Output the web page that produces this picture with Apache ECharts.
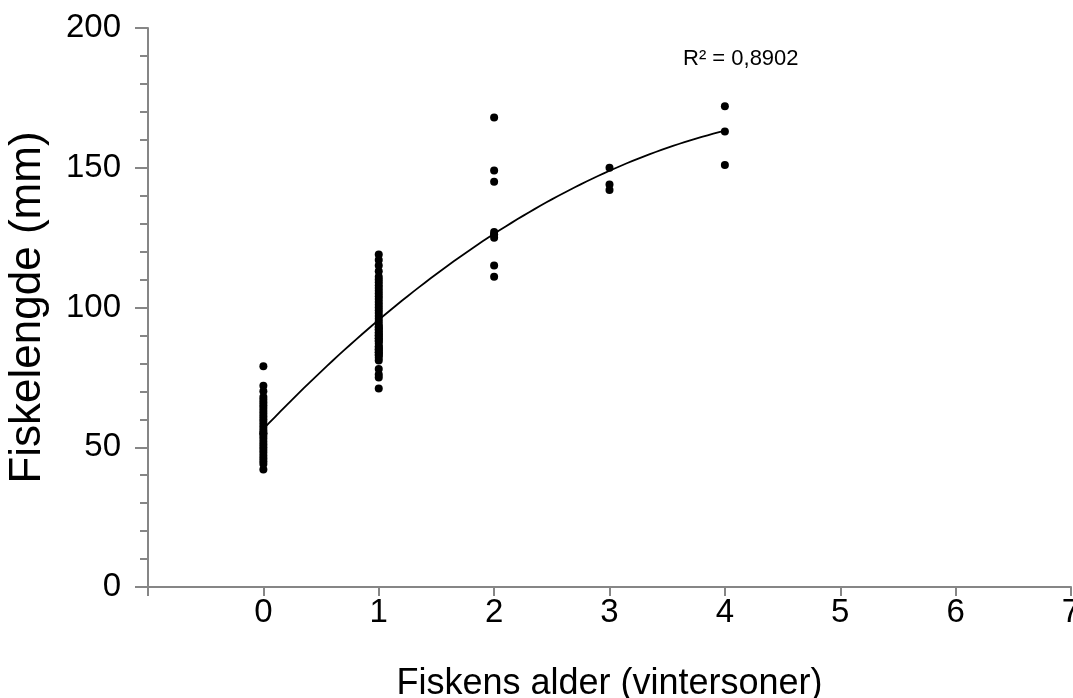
<!DOCTYPE html>
<html>
<head>
<meta charset="utf-8">
<script src="https://cdn.jsdelivr.net/npm/echarts@6/dist/echarts.min.js"></script>
<style>
html,body{margin:0;padding:0;background:#fff;overflow:hidden;}
#chart{width:1073px;height:698px;}
</style>
</head>
<body>
<div id="chart"></div>
<script>
// Fish age (winter zones) groups and measured lengths (mm)
const age0 = [79,72,70,68,67,66,65,64,63,62,61,60,59,58,57,56,55,55,54,53,52,51,50,49,48,47,46,45,44,42];
const age1 = [119,117,115,113,111,110,109,108,107,106,105,104,103,102,101,100,99,98,97,96,95,94,93,93,92,92,91,91,90,90,89,89,88,88,87,86,86,85,85,84,84,83,83,82,81,78,76,75,71];
const age2 = [168,149,145,127,126,126,125,115,111];
const age3 = [150,144,142];
const age4 = [172,163,151];
const xTicks = [-1,0,1,2,3,4,5,6,7];
const yTicks = [0,50,100,150,200];
const rSquaredLabel = 'R² = 0,8902';

const groups = [[0,age0],[1,age1],[2,age2],[3,age3],[4,age4]];
const points = [];
groups.forEach(([a, arr]) => arr.forEach(v => points.push([a, v])));

// Least-squares quadratic trendline (order 2) computed from the data
function polyfit2(pts){
  let S=[0,0,0,0,0], T=[0,0,0];
  pts.forEach(([x,y])=>{
    let p=1;
    for(let k=0;k<5;k++){S[k]+=p; if(k<3) T[k]+=p*y; p*=x;}
  });
  const A=[[S[0],S[1],S[2],T[0]],[S[1],S[2],S[3],T[1]],[S[2],S[3],S[4],T[2]]];
  for(let i=0;i<3;i++){
    let piv=i; for(let r=i+1;r<3;r++) if(Math.abs(A[r][i])>Math.abs(A[piv][i])) piv=r;
    [A[i],A[piv]]=[A[piv],A[i]];
    for(let r=0;r<3;r++){ if(r===i) continue; const f=A[r][i]/A[i][i]; for(let c=i;c<4;c++) A[r][c]-=f*A[i][c]; }
  }
  return [A[0][3]/A[0][0],A[1][3]/A[1][1],A[2][3]/A[2][2]];
}
const coef = polyfit2(points);
const trend = [];
for(let i=0;i<=80;i++){ const x=i/20; trend.push([x, coef[0]+coef[1]*x+coef[2]*x*x]); }

const FONT = '"Liberation Sans", Arial, sans-serif';
const AX = '#868686';
const chart = echarts.init(document.getElementById('chart'), null, {renderer:'canvas'});
chart.setOption({
  animation:false,
  backgroundColor:'#fff',
  grid:{left:148,right:2,top:28,bottom:111,containLabel:false,outerBoundsMode:'none'},
  xAxis:{
    type:'value', min:xTicks[0], max:xTicks[xTicks.length-1], interval:1,
    name:'Fiskens alder (vintersoner)', nameLocation:'middle', nameGap:79,
    nameTextStyle:{fontFamily:FONT,fontSize:36,color:'#000'},
    axisLine:{show:true,onZero:false,lineStyle:{color:AX,width:2}},
    axisTick:{show:true,length:9,lineStyle:{color:AX,width:2}},
    axisLabel:{fontFamily:FONT,fontSize:33,color:'#000',margin:9,
      formatter:v=> v<0 ? '' : String(v), showMaxLabel:true, hideOverlap:false},
    splitLine:{show:false}
  },
  yAxis:{
    type:'value', min:yTicks[0], max:yTicks[yTicks.length-1], interval:50,
    name:'Fiskelengde (mm)', nameLocation:'middle', nameGap:98, nameRotate:90,
    nameTextStyle:{fontFamily:FONT,fontSize:44,color:'#000'},
    axisLine:{show:true,onZero:false,lineStyle:{color:AX,width:2}},
    axisTick:{show:true,length:13,lineStyle:{color:AX,width:2}},
    minorTick:{show:true,splitNumber:5,length:8,lineStyle:{color:AX,width:2}},
    axisLabel:{fontFamily:FONT,fontSize:33,color:'#000',margin:27},
    splitLine:{show:false}
  },
  graphic:[{
    type:'text', left:683, top:48,
    style:{text:rSquaredLabel, font:'22px "Liberation Sans", Arial, sans-serif', fill:'#000'}
  }],
  series:[
    {type:'line', data:trend, showSymbol:false, symbol:'none', smooth:false,
     lineStyle:{color:'#000',width:1.8}, z:3, silent:true},
    {type:'scatter', data:points, symbol:'circle', symbolSize:8,
     itemStyle:{color:'#000',opacity:1}, z:4}
  ]
});
</script>
</body>
</html>
